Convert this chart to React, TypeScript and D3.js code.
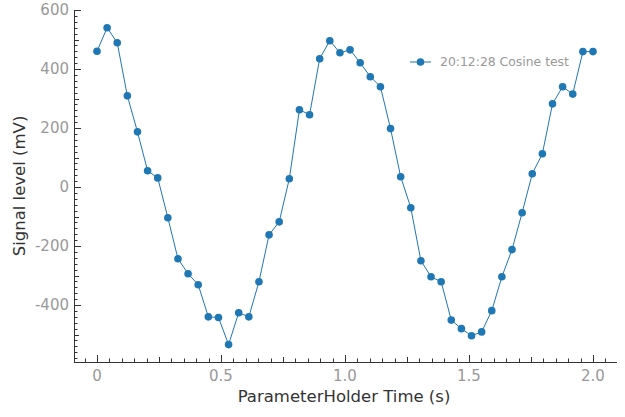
import React from 'react';
import * as d3 from 'd3';

// 50 samples, evenly spaced from 0 to 2 s
const times: number[] = Array.from({ length: 50 }, (_, i) => (i * 2) / 49);
const signal: number[] = [
  460, 540, 489, 309, 187, 55, 31, -104, -243, -294,
  -331, -440, -442, -534, -426, -440, -321, -162, -118, 28,
  262, 245, 435, 496, 455, 465, 421, 374, 340, 198,
  35, -70, -250, -304, -321, -451, -480, -504, -491, -419,
  -304, -212, -87, 45, 113, 282, 340, 315, 459, 459,
];
const xTicks: number[] = [0, 0.5, 1.0, 1.5, 2.0];
const xTickLabels: string[] = ['0', '0.5', '1.0', '1.5', '2.0'];
const yTicks: number[] = [600, 400, 200, 0, -200, -400];
const seriesName = '20:12:28 Cosine test';

const W = 625;
const H = 417;
const left = 74;
const right = 617;
const top = 10;
const bottom = 362;

const color = '#1f77b4';
const axisColor = '#333';
const labelColor = '#999';
const font = '"DejaVu Sans", sans-serif';

export default function App() {
  const x = d3.scaleLinear().domain([-0.0927, 2.0968]).range([left, right]);
  const y = d3.scaleLinear().domain([-593, 600]).range([bottom, top]);

  const pts = times.map((t, i) => ({ t, v: signal[i] }));
  const line = d3.line<{ t: number; v: number }>()
    .x(d => x(d.t))
    .y(d => y(d.v));

  // minor / mid / major ticks
  const yMinor = d3.range(-580, 601, 20);
  const xMinor = d3.range(-1, 42).map(k => k * 0.05).filter(v => x(v) >= left - 0.5 && x(v) <= right);
  const yLen = (v: number) => (Math.abs(v % 200) < 1e-6 ? 7 : Math.abs(v % 100) < 1e-6 ? 5 : 3.5);
  const xLen = (v: number) => {
    const k = Math.round(v / 0.05);
    return k % 10 === 0 ? 7 : k % 5 === 0 ? 5 : 3.5;
  };

  return (
    <svg width={W} height={H} style={{ position: 'fixed', left: 0, top: 0 }} fontFamily={font}>
      <rect width={W} height={H} fill="#fff" />

      {/* left axis */}
      <line x1={left + 0.5} x2={left + 0.5} y1={top} y2={bottom + 0.5} stroke={axisColor} />
      {yMinor.map(v => (
        <line key={'yt' + v} x1={left} x2={left + yLen(v)} y1={Math.round(y(v)) + 0.5} y2={Math.round(y(v)) + 0.5} stroke={axisColor} strokeWidth={1} />
      ))}
      {yTicks.map(v => (
        <text key={'yl' + v} x={left - 5} y={y(v)} dy="0.35em" textAnchor="end" fontSize={15} fill={labelColor}>
          {v}
        </text>
      ))}
      <text transform={`translate(25,${(top + bottom) / 2}) rotate(-90)`} textAnchor="middle" fontSize={16.5} fill={axisColor}>
        Signal level (mV)
      </text>

      {/* bottom axis */}
      <line x1={left} x2={right} y1={bottom + 0.5} y2={bottom + 0.5} stroke={axisColor} />
      {xMinor.map(v => (
        <line key={'xt' + v} x1={Math.round(x(v)) + 0.5} x2={Math.round(x(v)) + 0.5} y1={bottom} y2={bottom - xLen(v)} stroke={axisColor} strokeWidth={1} />
      ))}
      {xTicks.map((v, i) => (
        <text key={'xl' + v} x={x(v)} y={376} dy="0.35em" textAnchor="middle" fontSize={15} fill={labelColor}>
          {xTickLabels[i]}
        </text>
      ))}
      <text x={344} y={402} textAnchor="middle" fontSize={16.5} fill={axisColor}>
        ParameterHolder Time (s)
      </text>

      {/* series */}
      <path d={line(pts) || ''} fill="none" stroke={color} strokeWidth={1} />
      {pts.map((d, i) => (
        <circle key={i} cx={x(d.t)} cy={y(d.v)} r={3.8} fill={color} />
      ))}

      {/* legend */}
      <line x1={410} x2={431} y1={62} y2={62} stroke={color} strokeWidth={1} />
      <circle cx={420.5} cy={62} r={3.8} fill={color} />
      <text x={440} y={62} dy="0.35em" fontSize={12.4} fill={labelColor}>
        {seriesName}
      </text>
    </svg>
  );
}
